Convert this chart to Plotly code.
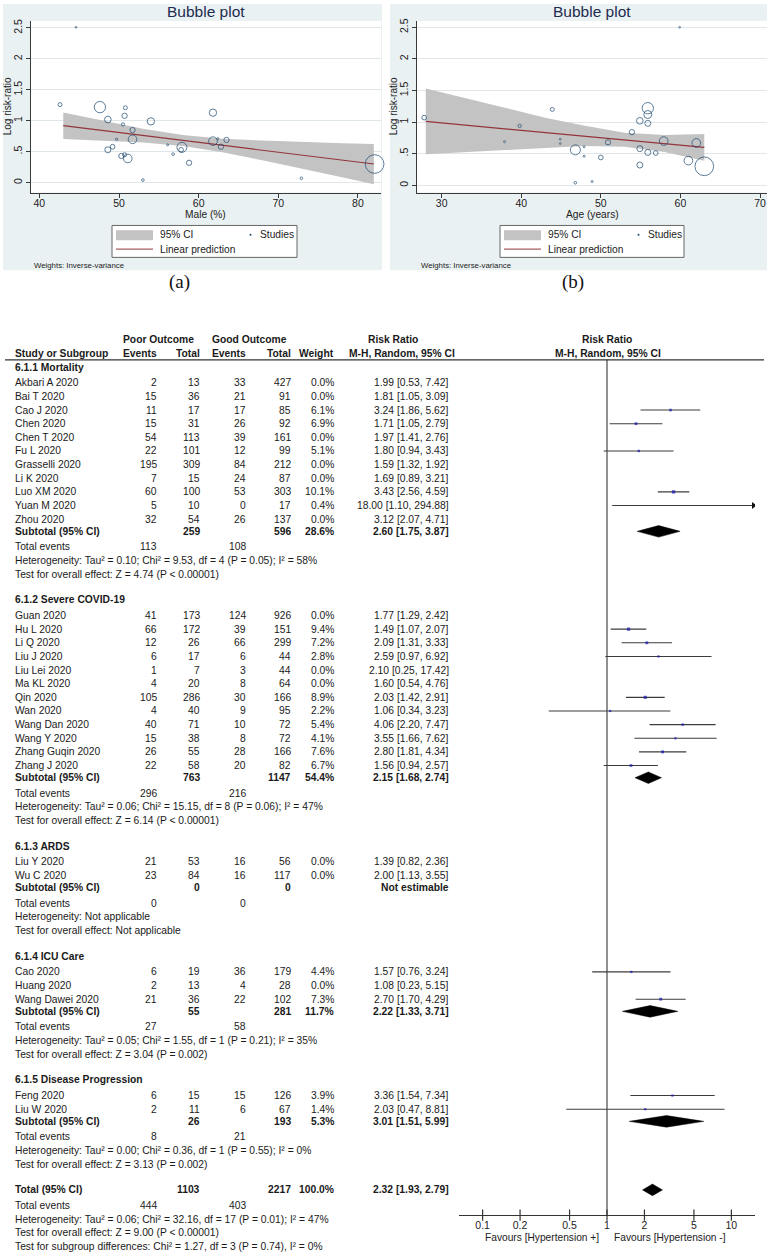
import math
import plotly.graph_objects as go

W, H = 770, 1253
FONT = "Liberation Sans, Arial, sans-serif"
SERIF = "Liberation Serif, Times New Roman, serif"

# ---------------- Bubble plot (a): Male (%) ----------------
male_pct = [44.6, 42.6, 47.6, 48.6, 50.8, 50.7, 50.5, 54.0, 51.7, 49.7, 51.7, 49.2, 48.6, 50.3, 50.7,
            51.1, 53.0, 56.1, 56.8, 57.9, 57.8, 58.8, 61.8, 61.8, 62.4, 62.8, 63.5, 72.9, 82.1]
logrr_male = [2.51, 1.26, 1.22, 1.02, 1.21, 1.08, 0.94, 0.99, 0.85, 0.70, 0.70, 0.58, 0.53, 0.43, 0.45,
              0.39, 0.04, 0.61, 0.46, 0.57, 0.53, 0.32, 1.13, 0.67, 0.71, 0.58, 0.69, 0.07, 0.30]
weight_male = [3, 16, 128, 44, 16, 28, 11, 54, 28, 5, 75, 22, 36, 28, 16,
               75, 7, 4, 7, 100, 22, 28, 54, 75, 4, 28, 28, 7, 348]
male_fit_x = [43, 48, 53, 58, 63, 68, 73, 78, 82]
male_fit_y = [0.92, 0.84, 0.76, 0.68, 0.60, 0.52, 0.44, 0.36, 0.30]
male_ci_upper = [1.135, 1.00, 0.87, 0.77, 0.71, 0.68, 0.655, 0.635, 0.625]
male_ci_lower = [0.705, 0.68, 0.65, 0.59, 0.49, 0.36, 0.225, 0.085, -0.025]
male_ticks = [40, 50, 60, 70, 80]

# ---------------- Bubble plot (b): Age (years) ----------------
age_years = [27.8, 37.9, 39.8, 43.9, 44.9, 44.9, 46.8, 46.8, 47.9, 47.9, 48.9, 50.0, 50.9, 53.9,
             54.9, 54.9, 54.9, 55.9, 55.9, 55.9, 55.9, 56.9, 57.9, 59.9, 61.0, 62.0, 63.0]
logrr_age = [1.07, 0.69, 0.94, 1.20, 0.73, 0.66, 0.56, 0.04, 0.61, 0.46, 0.06, 0.44, 0.68, 0.84,
             1.02, 0.58, 0.32, 1.22, 1.12, 0.98, 0.52, 0.51, 0.70, 2.50, 0.39, 0.67, 0.30]
weight_age = [22, 4, 11, 16, 3, 3, 100, 7, 4, 4, 4, 22, 28, 28,
              44, 36, 36, 128, 64, 36, 36, 22, 75, 3, 75, 75, 348]
age_fit_x = [28, 33, 38, 43, 48, 53, 58, 63]
age_fit_y = [1.01, 0.95, 0.89, 0.83, 0.78, 0.72, 0.66, 0.60]
age_ci_upper = [1.53, 1.375, 1.22, 1.07, 0.94, 0.83, 0.795, 0.81]
age_ci_lower = [0.49, 0.525, 0.56, 0.59, 0.62, 0.61, 0.525, 0.39]
age_ticks = [30, 40, 50, 60, 70]

logrr_ticks = [0, 0.5, 1, 1.5, 2, 2.5]
logrr_ticktext = ["0", ".5", "1", "1.5", "2", "2.5"]

# ---------------- Forest plot ----------------
section_titles = ["6.1.1 Mortality", "6.1.2 Severe COVID-19", "6.1.3 ARDS",
                  "6.1.4 ICU Care", "6.1.5 Disease Progression"]
study_names = ["Akbari A 2020", "Bai T 2020", "Cao J 2020", "Chen 2020", "Chen T 2020", "Fu L 2020",
               "Grasselli 2020", "Li K 2020", "Luo XM 2020", "Yuan M 2020", "Zhou 2020",
               "Guan 2020", "Hu L 2020", "Li Q 2020", "Liu J 2020", "Liu Lei 2020", "Ma KL 2020",
               "Qin 2020", "Wan 2020", "Wang Dan 2020", "Wang Y 2020", "Zhang Guqin 2020", "Zhang J 2020",
               "Liu Y 2020", "Wu C 2020",
               "Cao 2020", "Huang 2020", "Wang Dawei 2020",
               "Feng 2020", "Liu W 2020"]
study_section = [0] * 11 + [1] * 12 + [2] * 2 + [3] * 3 + [4] * 2
poor_events = [2, 15, 11, 15, 54, 22, 195, 7, 60, 5, 32,
               41, 66, 12, 6, 1, 4, 105, 4, 40, 15, 26, 22,
               21, 23,
               6, 2, 21,
               6, 2]
poor_total = [13, 36, 17, 31, 113, 101, 309, 15, 100, 10, 54,
              173, 172, 26, 17, 7, 20, 286, 40, 71, 38, 55, 58,
              53, 84,
              19, 13, 36,
              15, 11]
good_events = [33, 21, 17, 26, 39, 12, 84, 24, 53, 0, 26,
               124, 39, 66, 6, 3, 8, 30, 9, 10, 8, 28, 20,
               16, 16,
               36, 4, 22,
               15, 6]
good_total = [427, 91, 85, 92, 161, 99, 212, 87, 303, 17, 137,
              926, 151, 299, 44, 44, 64, 166, 95, 72, 72, 166, 82,
              56, 117,
              179, 28, 102,
              126, 67]
study_weight = [0.0, 0.0, 6.1, 6.9, 0.0, 5.1, 0.0, 0.0, 10.1, 0.4, 0.0,
                0.0, 9.4, 7.2, 2.8, 0.0, 0.0, 8.9, 2.2, 5.4, 4.1, 7.6, 6.7,
                0.0, 0.0,
                4.4, 0.0, 7.3,
                3.9, 1.4]
study_rr = [1.99, 1.81, 3.24, 1.71, 1.97, 1.80, 1.59, 1.69, 3.43, 18.00, 3.12,
            1.77, 1.49, 2.09, 2.59, 2.10, 1.60, 2.03, 1.06, 4.06, 3.55, 2.80, 1.56,
            1.39, 2.00,
            1.57, 1.08, 2.70,
            3.36, 2.03]
study_lo = [0.53, 1.05, 1.86, 1.05, 1.41, 0.94, 1.32, 0.89, 2.56, 1.10, 2.07,
            1.29, 1.07, 1.31, 0.97, 0.25, 0.54, 1.42, 0.34, 2.20, 1.66, 1.81, 0.94,
            0.82, 1.13,
            0.76, 0.23, 1.70,
            1.54, 0.47]
study_hi = [7.42, 3.09, 5.62, 2.79, 2.76, 3.43, 1.92, 3.21, 4.59, 294.88, 4.71,
            2.42, 2.07, 3.33, 6.92, 17.42, 4.76, 2.91, 3.23, 7.47, 7.62, 4.34, 2.57,
            2.36, 3.55,
            3.24, 5.15, 4.29,
            7.34, 8.81]

sub_poor_total = [259, 763, 0, 55, 26]
sub_good_total = [596, 1147, 0, 281, 193]
sub_weight = [28.6, 54.4, None, 11.7, 5.3]
sub_rr = [2.60, 2.15, None, 2.22, 3.01]
sub_lo = [1.75, 1.68, None, 1.33, 1.51]
sub_hi = [3.87, 2.74, None, 3.71, 5.99]
sub_poor_events = [113, 296, 0, 27, 8]
sub_good_events = [108, 216, 0, 58, 21]
sub_het = ["Heterogeneity: Tau² = 0.10; Chi² = 9.53, df = 4 (P = 0.05); I² = 58%",
           "Heterogeneity: Tau² = 0.06; Chi² = 15.15, df = 8 (P = 0.06); I² = 47%",
           "Heterogeneity: Not applicable",
           "Heterogeneity: Tau² = 0.05; Chi² = 1.55, df = 1 (P = 0.21); I² = 35%",
           "Heterogeneity: Tau² = 0.00; Chi² = 0.36, df = 1 (P = 0.55); I² = 0%"]
sub_test = ["Test for overall effect: Z = 4.74 (P < 0.00001)",
            "Test for overall effect: Z = 6.14 (P < 0.00001)",
            "Test for overall effect: Not applicable",
            "Test for overall effect: Z = 3.04 (P = 0.002)",
            "Test for overall effect: Z = 3.13 (P = 0.002)"]

total_poor_total = 1103
total_good_total = 2217
total_weight = 100.0
total_rr, total_lo, total_hi = 2.32, 1.93, 2.79
total_poor_events = 444
total_good_events = 403
total_het = "Heterogeneity: Tau² = 0.06; Chi² = 32.16, df = 17 (P = 0.01); I² = 47%"
total_test = "Test for overall effect: Z = 9.00 (P < 0.00001)"
subgroup_test = "Test for subgroup differences: Chi² = 1.27, df = 3 (P = 0.74), I² = 0%"

forest_ticks = [0.1, 0.2, 0.5, 1, 2, 5, 10]
forest_ticktext = ["0.1", "0.2", "0.5", "1", "2", "5", "10"]
favours_left = "Favours [Hypertension +]"
favours_right = "Favours [Hypertension -]"

# ---------------- helpers ----------------
def X(px):
    return px / W


def Y(py):
    return 1 - py / H


annotations = []
shapes = []
traces = []
TS = 10.3  # table font size


def txt(x, y, s, anchor="left", size=TS, bold=False, color="#1a1a1a", family=FONT, angle=0):
    annotations.append(dict(
        x=X(x), y=Y(y), xref="paper", yref="paper", text=("<b>%s</b>" % s) if bold else s,
        showarrow=False, xanchor=anchor, yanchor="middle", textangle=angle,
        font=dict(family=family, size=size, color=color)))


def rect(x0, y0, x1, y1, fill, line=None, lw=1):
    shapes.append(dict(type="rect", xref="paper", yref="paper", x0=X(x0), x1=X(x1), y0=Y(y1), y1=Y(y0),
                       fillcolor=fill, line=dict(color=line or "rgba(0,0,0,0)", width=lw if line else 0),
                       layer="below"))


def hline(x0, x1, y, color, lw=1, layer="above"):
    shapes.append(dict(type="line", xref="paper", yref="paper", x0=X(x0), x1=X(x1), y0=Y(y), y1=Y(y),
                       line=dict(color=color, width=lw), layer=layer))


PANEL_BG = "#eaf1f3"
NAVY = "#1a476f"
MAROON = "#93353b"
BAND = "#c3c3c3"
GRID = "#dfe7ea"
AXC = "#3a3a3a"


def bubble_panel(xs, ys, ws, fx, fy, up, lo, xa, ya, bg, plot, legend, title_x, xtitle, ytitle_x, caption, cap_x):
    rect(bg[0], bg[1], bg[2], bg[3], PANEL_BG)
    rect(plot[0], plot[1], plot[2], plot[3], "white")
    traces.append(go.Scatter(x=fx + fx[::-1], y=up + lo[::-1], fill="toself", fillcolor=BAND, mode="lines",
                             line=dict(width=0, color=BAND), xaxis=xa, yaxis=ya, hoverinfo="skip",
                             showlegend=False))
    traces.append(go.Scatter(x=fx, y=fy, mode="lines", line=dict(color=MAROON, width=1.2),
                             xaxis=xa, yaxis=ya, showlegend=False))
    traces.append(go.Scatter(x=xs, y=ys, mode="markers", cliponaxis=False,
                             marker=dict(size=[max(1.6, math.sqrt(w)) for w in ws], color="rgba(0,0,0,0)",
                                         line=dict(color=NAVY, width=1)),
                             xaxis=xa, yaxis=ya, showlegend=False))
    txt(title_x, 8.3, "Bubble plot", "center", 15.5, color="#1c2b4f")
    txt(title_x, 212, xtitle, "center", 10.2, color="#222")
    txt(ytitle_x, 104, "Log risk-ratio", "center", 10, color="#222", angle=-90)
    lx0, lx1 = legend
    shapes.append(dict(type="rect", xref="paper", yref="paper", x0=X(lx0), x1=X(lx1), y0=Y(255), y1=Y(223),
                       fillcolor="white", line=dict(color="#666", width=1), layer="below"))
    shapes.append(dict(type="rect", xref="paper", yref="paper", x0=X(lx0 + 4), x1=X(lx0 + 41), y0=Y(237.7),
                       y1=Y(227.7), fillcolor=BAND, line=dict(width=0), layer="above"))
    hline(lx0 + 4, lx0 + 41, 246.7, MAROON, 1)
    txt(lx0 + 46, 232.3, "95% CI", "left", 10.2, color="#222")
    txt(lx0 + 46, 246.7, "Linear prediction", "left", 10.2, color="#222")
    shapes.append(dict(type="circle", xref="paper", yref="paper", x0=X(lx0 + 137.5), x1=X(lx0 + 139.5),
                       y0=Y(233.3), y1=Y(231.3), fillcolor=NAVY, line=dict(width=0), layer="above"))
    txt(lx0 + 145.5, 232.3, "Studies", "left", 10.2, color="#222")
    txt(bg[0] + 29, 263.3, "Weights: Inverse-variance", "left", 7.8, color="#222")
    txt(cap_x, 280, caption, "center", 19, color="#111", family=SERIF)


bubble_panel(male_pct, logrr_male, weight_male, male_fit_x, male_fit_y, male_ci_upper, male_ci_lower,
             "x", "y", (3, 1, 382, 268), (31, 18, 381, 190), (112, 297), 205.5, "Male (%)", 7.5, "(a)", 179)
bubble_panel(age_years, logrr_age, weight_age, age_fit_x, age_fit_y, age_ci_upper, age_ci_lower,
             "x2", "y2", (390, 1, 767, 268), (417, 18, 767, 190), (500, 684), 592, "Age (years)", 393.5,
             "(b)", 573)

# ---------------- forest table layout ----------------
COL_NAME = 13.3
COL_EV1, COL_TOT1, COL_EV2, COL_TOT2, COL_WT, COL_RR = 158.5, 201.8, 247.5, 292.8, 336.2, 450.5
Y_HEAD1, Y_HEAD2, Y_RULE = 337.7, 351.7, 357.7
FIRST_SECTION_Y = 365
STEP_HEADER_STUDY = 15.7
STEP_STUDY = 13.67
STEP_SUBTOTAL = 12.2
STEP_TOTEV = 15.5
STEP_HET = 13.7
STEP_TEST = 13.9
STEP_SECTION = 25.6
AXIS_Y = 1215
DIAMOND_H = 5.8
FOREST_LOGMIN, FOREST_LOGMAX = -1.19, 1.19

txt(158.3, Y_HEAD1, "Poor Outcome", "center", bold=True)
txt(249, Y_HEAD1, "Good Outcome", "center", bold=True)
txt(393.3, Y_HEAD1, "Risk Ratio", "center", bold=True)
txt(607, Y_HEAD1, "Risk Ratio", "center", bold=True)
txt(COL_NAME, Y_HEAD2, "Study or Subgroup", "left", bold=True)
txt(COL_EV1 + 0.5, Y_HEAD2, "Events", "right", bold=True)
txt(COL_TOT1, Y_HEAD2, "Total", "right", bold=True)
txt(COL_EV2 + 0.5, Y_HEAD2, "Events", "right", bold=True)
txt(COL_TOT2, Y_HEAD2, "Total", "right", bold=True)
txt(COL_WT, Y_HEAD2, "Weight", "right", bold=True)
txt(401.5, Y_HEAD2, "M-H, Random, 95% CI", "center", bold=True)
txt(607.5, Y_HEAD2, "M-H, Random, 95% CI", "center", bold=True)
hline(5, 764, Y_RULE, "#333", 1.2)


def rr_text(r, lo, hi):
    return "%.2f [%.2f, %.2f]" % (r, lo, hi)


ci_x, ci_y = [], []
sq_x, sq_y, sq_s = [], [], []
arrow_x, arrow_y = [], []
diamonds = []
x_max = 10 ** (FOREST_LOGMAX - 0.012)

y = FIRST_SECTION_Y
for s, title in enumerate(section_titles):
    if s > 0:
        y += STEP_SECTION
    txt(COL_NAME, y, title, "left", bold=True)
    idx = [i for i in range(len(study_names)) if study_section[i] == s]
    y += STEP_HEADER_STUDY
    for k, i in enumerate(idx):
        if k > 0:
            y += STEP_STUDY
        txt(COL_NAME, y, study_names[i], "left")
        txt(COL_EV1, y, str(poor_events[i]), "right")
        txt(COL_TOT1, y, str(poor_total[i]), "right")
        txt(COL_EV2, y, str(good_events[i]), "right")
        txt(COL_TOT2, y, str(good_total[i]), "right")
        txt(COL_WT, y, "%.1f%%" % study_weight[i], "right")
        txt(COL_RR, y, rr_text(study_rr[i], study_lo[i], study_hi[i]), "right")
        if study_weight[i] > 0:
            end = min(study_hi[i], x_max)
            ci_x += [study_lo[i], end, None]
            ci_y += [y, y, None]
            if end < study_hi[i]:
                arrow_x.append(end)
                arrow_y.append(y)
            if study_rr[i] < x_max:
                sq_x.append(study_rr[i])
                sq_y.append(y)
                sq_s.append(max(2.2, 1.05 * math.sqrt(study_weight[i])))
    y += STEP_SUBTOTAL
    txt(COL_NAME, y, "Subtotal (95% CI)", "left", bold=True)
    txt(COL_TOT1, y, str(sub_poor_total[s]), "right", bold=True)
    txt(COL_TOT2, y, str(sub_good_total[s]), "right", bold=True)
    if sub_rr[s] is not None:
        txt(COL_WT, y, "%.1f%%" % sub_weight[s], "right", bold=True)
        txt(COL_RR, y, rr_text(sub_rr[s], sub_lo[s], sub_hi[s]), "right", bold=True)
        diamonds.append((sub_lo[s], sub_rr[s], sub_hi[s], y))
    else:
        txt(COL_RR, y, "Not estimable", "right", bold=True)
    y += STEP_TOTEV
    txt(COL_NAME, y, "Total events", "left")
    txt(COL_EV1, y, str(sub_poor_events[s]), "right")
    txt(COL_EV2, y, str(sub_good_events[s]), "right")
    y += STEP_HET
    txt(COL_NAME, y, sub_het[s], "left")
    y += STEP_TEST
    txt(COL_NAME, y, sub_test[s], "left")

y += STEP_SECTION
txt(COL_NAME, y, "Total (95% CI)", "left", bold=True)
txt(COL_TOT1, y, str(total_poor_total), "right", bold=True)
txt(COL_TOT2, y, str(total_good_total), "right", bold=True)
txt(COL_WT, y, "%.1f%%" % total_weight, "right", bold=True)
txt(COL_RR, y, rr_text(total_rr, total_lo, total_hi), "right", bold=True)
diamonds.append((total_lo, total_rr, total_hi, y))
y += STEP_TOTEV
txt(COL_NAME, y, "Total events", "left")
txt(COL_EV1, y, str(total_poor_events), "right")
txt(COL_EV2, y, str(total_good_events), "right")
y += STEP_HET
txt(COL_NAME, y, total_het, "left")
y += STEP_TEST
txt(COL_NAME, y, total_test, "left")
y += STEP_HET
txt(COL_NAME, y, subgroup_test, "left")

txt(601, 1237, favours_left, "right", 10.2, color="#222")
txt(612, 1237, favours_right, "left", 10.2, color="#222")

traces.append(go.Scatter(x=[1, 1], y=[Y_RULE, AXIS_Y], mode="lines", line=dict(color="#555", width=1.3),
                         xaxis="x3", yaxis="y3", showlegend=False))
traces.append(go.Scatter(x=ci_x, y=ci_y, mode="lines", line=dict(color="#3c3c3c", width=1.1),
                         xaxis="x3", yaxis="y3", showlegend=False))
traces.append(go.Scatter(x=arrow_x, y=arrow_y, mode="markers", marker=dict(symbol="triangle-right", size=6,
                                                                           color="#111"),
                         xaxis="x3", yaxis="y3", showlegend=False))
traces.append(go.Scatter(x=sq_x, y=sq_y, mode="markers",
                         marker=dict(symbol="square", size=sq_s, color="#1414b4", line=dict(width=0)),
                         xaxis="x3", yaxis="y3", showlegend=False))
for lo, r, hi, yc in diamonds:
    traces.append(go.Scatter(x=[lo, r, hi, r, lo], y=[yc, yc - DIAMOND_H, yc, yc + DIAMOND_H, yc],
                             mode="lines", fill="toself", fillcolor="black", line=dict(color="black", width=0.5),
                             xaxis="x3", yaxis="y3", showlegend=False))
traces.append(go.Scatter(x=forest_ticks, y=[AXIS_Y] * len(forest_ticks), mode="markers",
                         marker=dict(symbol="line-ns", size=8, line=dict(color="#333", width=1.2)),
                         xaxis="x3", yaxis="y3", showlegend=False, cliponaxis=False))

fig = go.Figure(traces)

tickfont = dict(family=FONT, size=10.5, color="#222")


def bubble_axes(xdom, ydom, xr, yr, xt, anchor_x, anchor_y):
    xa = dict(domain=xdom, range=xr, tickvals=xt, ticks="outside", ticklen=4, tickcolor=AXC,
              showline=True, linecolor=AXC, linewidth=1, showgrid=False, zeroline=False,
              tickfont=tickfont, anchor=anchor_y, fixedrange=True, ticklabelstandoff=-3)
    ya = dict(domain=ydom, range=yr, tickvals=logrr_ticks, ticktext=logrr_ticktext, ticks="outside",
              ticklen=4, tickcolor=AXC, tickangle=-90, showline=True, linecolor=AXC, linewidth=1,
              showgrid=True, gridcolor=GRID, gridwidth=1, zeroline=False, tickfont=tickfont,
              anchor=anchor_x, fixedrange=True)
    return xa, ya


xa1, ya1 = bubble_axes([X(31), X(381)], [Y(190), Y(18)], [38.95, 82.9], [-0.161, 2.613], male_ticks, "x", "y")
xa2, ya2 = bubble_axes([X(417), X(767)], [Y(190), Y(18)], [26.9, 70.88], [-0.115, 2.6], age_ticks, "x2", "y2")

fig.update_layout(
    width=W, height=H, autosize=False,
    margin=dict(l=0, r=0, t=0, b=0, pad=0),
    paper_bgcolor="white", plot_bgcolor="rgba(0,0,0,0)",
    showlegend=False,
    xaxis=xa1, yaxis=ya1, xaxis2=xa2, yaxis2=ya2,
    xaxis3=dict(domain=[X(459), X(755)], type="log", range=[FOREST_LOGMIN, FOREST_LOGMAX],
                tickvals=forest_ticks, ticktext=forest_ticktext, ticks="", showline=True,
                linecolor="#333", linewidth=1.2, showgrid=False, zeroline=False,
                tickfont=dict(family=FONT, size=10.5, color="#222"),
                anchor="free", position=Y(AXIS_Y), fixedrange=True),
    yaxis3=dict(domain=[0, 1], range=[H, 0], visible=False, anchor="x3", fixedrange=True),
    annotations=annotations, shapes=shapes,
    font=dict(family=FONT),
)

fig.write_html("out.html", config={"displayModeBar": False, "staticPlot": True},
               post_script="document.body.style.margin='0';")
